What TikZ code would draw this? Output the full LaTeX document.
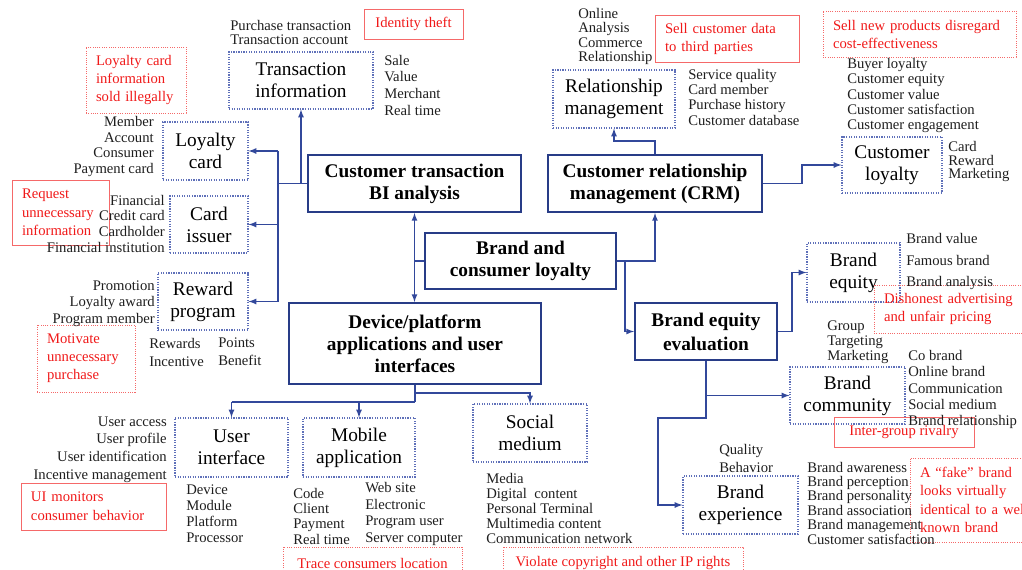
\documentclass[tikz,border=0pt]{standalone}
\usepackage{fontspec}
\setmainfont{Liberation Serif}
\usepackage{tikz}

\begin{document}
\begin{tikzpicture}[x=0.75pt,y=0.75pt,yscale=-1,xscale=1,>=latex,
  mainbox/.style={draw={rgb, 255:red, 40; green, 60; blue, 135}, line width=1.5pt, align=center, inner sep=0.75pt, font=\fontsize{14.5}{16.5}\selectfont\bfseries},
  subbox/.style={draw={rgb, 255:red, 95; green, 112; blue, 185}, densely dotted, line width=0.9pt, align=center, inner sep=0.75pt, font=\fontsize{14.5}{16.5}\selectfont},
  risk/.style={draw={rgb, 255:red, 245; green, 105; blue, 105}, line width=0.7pt, text={rgb, 255:red, 240; green, 25; blue, 25}, align=left, inner xsep=7.5pt, inner ysep=0pt, font=\fontsize{11}{13.5}\selectfont},
  term/.style={inner sep=0.75pt, align=left, text={rgb, 255:red, 30; green, 30; blue, 30}},
  link/.style={draw={rgb, 255:red, 50; green, 72; blue, 155}, line width=1pt}]
\useasboundingbox (0,0) rectangle (1022,569);
\clip (0,0) rectangle (1022,569);

%Shape: Rectangle (main boxes)
\draw (414.5,183.5) node (ctbi) [mainbox, minimum width=159.75pt, minimum height=42.75pt] {Customer transaction\\BI analysis};
\draw (655,183.5) node (crm) [mainbox, minimum width=160.5pt, minimum height=42.75pt] {Customer relationship\\management (CRM)};
\draw (520.5,261) node (bcl) [mainbox, minimum width=143.25pt, minimum height=42pt] {Brand and\\consumer loyalty};
\draw (415,343.5) node (dev) [mainbox, minimum width=189pt, minimum height=60.75pt] {Device/platform\\applications and user\\interfaces};
\draw (706,331.5) node (bee) [mainbox, minimum width=106.5pt, minimum height=42.75pt, font=\fontsize{14.5}{18}\selectfont\bfseries] {Brand equity\\evaluation};

%Shape: Rectangle (dotted boxes)
\draw (301,80.5) node (tri) [subbox, minimum width=108pt, minimum height=42.75pt] {Transaction\\information};
\draw (205.5,151) node (lyc) [subbox, minimum width=63.75pt, minimum height=43.5pt] {Loyalty\\card};
\draw (209,224.5) node (cis) [subbox, minimum width=58.5pt, minimum height=42.75pt] {Card\\issuer};
\draw (203,301.5) node (rwp) [subbox, minimum width=67.5pt, minimum height=42.75pt] {Reward\\program};
\draw (614,99) node (rlm) [subbox, minimum width=91.5pt, minimum height=43.5pt] {Relationship\\management};
\draw (892,165) node (cly) [subbox, minimum width=75pt, minimum height=42pt] {Customer\\loyalty};
\draw (853.5,272.5) node (beq) [subbox, minimum width=69.75pt, minimum height=44.25pt] {Brand\\equity};
\draw (847.5,395.5) node (bco) [subbox, minimum width=86.25pt, minimum height=42.75pt] {Brand\\community};
\draw (740.5,505) node (bex) [subbox, minimum width=86.25pt, minimum height=43.5pt] {Brand\\experience};
\draw (231.5,447.5) node (uif) [subbox, minimum width=84.75pt, minimum height=44.25pt] {User\\interface};
\draw (359,447.5) node (mob) [subbox, minimum width=84pt, minimum height=44.25pt] {Mobile\\application};
\draw (530,433) node (soc) [subbox, minimum width=85.5pt, minimum height=43.5pt] {Social\\medium};

%Shape: Rectangle (risks)
\draw (413.5,24) node (idt) [risk, align=center, minimum width=74.25pt, minimum height=22.5pt] {Identity theft};
\draw (136,80) node (lci) [risk, densely dotted, text width=60pt, minimum height=49.5pt] {Loyalty card\\information\\sold illegally};
\draw (60.5,212.5) node (rui) [risk, text width=57.75pt, minimum height=48.75pt, font=\fontsize{11}{13.9}\selectfont] {Request\\unnecessary\\information};
\draw (86,358.5) node (mup) [risk, densely dotted, text width=58.5pt, minimum height=50.25pt] {Motivate\\unnecessary\\purchase};
\draw (93.5,506.5) node (uim) [risk, text width=93.75pt, minimum height=35.25pt, font=\fontsize{11}{14.25}\selectfont] {UI monitors\\consumer behavior};
\draw (372.5,563) node (tcl) [risk, densely dotted, align=center, minimum width=134.25pt, minimum height=24pt] {Trace consumers location};
\draw (623,563) node (vcr) [risk, densely dotted, align=center, minimum width=180pt, minimum height=24pt] {Violate copyright and other IP rights};
\draw (727,38.5) node (scd) [risk, text width=93pt, minimum height=35.25pt] {Sell customer data\\to third parties};
\draw (919.5,34) node (snp) [risk, densely dotted, text width=129.75pt, minimum height=34.5pt] {Sell new products disregard\\cost-effectiveness};
\draw (952,309) node (dap) [risk, densely dotted, text width=102pt, minimum height=36pt] {Dishonest advertising\\and unfair pricing};
\draw (904,432) node (igr) [risk, align=center, minimum width=105pt, minimum height=22.5pt] {Inter-group rivalry};
\draw (975,500) node (fkb) [risk, densely dotted, text width=82.5pt, minimum height=63pt, font=\fontsize{11}{13.75}\selectfont] {A “fake” brand\\looks virtually\\identical to a well\\known brand};

% Text Node
\draw (229,32) node (t1) [term, anchor=west, font=\fontsize{11}{10.5}\selectfont] {Purchase transaction\\Transaction account};
% Text Node
\draw (383,85) node (t2) [term, anchor=west, font=\fontsize{11}{12.5}\selectfont] {Sale\\Value\\Merchant\\Real time};
% Text Node
\draw (155,146.5) node (t3) [term, anchor=east, align=right, font=\fontsize{11}{11.75}\selectfont] {Member\\Account\\Consumer\\Payment card};
% Text Node
\draw (166,223.5) node (t4) [term, anchor=east, align=right, font=\fontsize{11}{11.75}\selectfont] {Financial\\Credit card\\Cardholder\\Financial institution};
% Text Node
\draw (156,303.5) node (t5) [term, anchor=east, align=right, font=\fontsize{11}{12.4}\selectfont] {Promotion\\Loyalty award\\Program member};
% Text Node
\draw (148,352) node (t6) [term, anchor=west, font=\fontsize{11}{13.5}\selectfont] {Rewards\\Incentive};
% Text Node
\draw (217,352) node (t7) [term, anchor=west, font=\fontsize{11}{13.5}\selectfont] {Points\\Benefit};
% Text Node
\draw (577,36.5) node (t8) [term, anchor=west, font=\fontsize{11}{10.75}\selectfont] {Online\\Analysis\\Commerce\\Relationship};
% Text Node
\draw (687,97) node (t9) [term, anchor=west, font=\fontsize{11}{11.5}\selectfont] {Service quality\\Card member\\Purchase history\\Customer database};
% Text Node
\draw (846,95.5) node (t10) [term, anchor=west, font=\fontsize{11}{11.45}\selectfont] {Buyer loyalty\\Customer equity\\Customer value\\Customer satisfaction\\Customer engagement};
% Text Node
\draw (947,161.5) node (t11) [term, anchor=west, font=\fontsize{11}{10.1}\selectfont] {Card\\Reward\\Marketing};
% Text Node
\draw (905,261.5) node (t12) [term, anchor=west, font=\fontsize{11}{16.1}\selectfont] {Brand value\\Famous brand\\Brand analysis};
% Text Node
\draw (826,342) node (t13) [term, anchor=west, font=\fontsize{11}{11.25}\selectfont] {Group\\Targeting\\Marketing};
% Text Node
\draw (907,389.5) node (t14) [term, anchor=west, font=\fontsize{11}{12.2}\selectfont] {Co brand\\Online brand\\Communication\\Social medium\\Brand relationship};
% Text Node
\draw (718,458) node (t15) [term, anchor=west, font=\fontsize{11}{13.5}\selectfont] {Quality\\Behavior};
% Text Node
\draw (806,503) node (t16) [term, anchor=west, font=\fontsize{11}{10.8}\selectfont] {Brand awareness\\Brand perception\\Brand personality\\Brand association\\Brand management\\Customer satisfaction};
% Text Node
\draw (168,449.5) node (t17) [term, anchor=east, align=right, font=\fontsize{11}{13.25}\selectfont] {User access\\User profile\\User identification\\Incentive management};
% Text Node
\draw (185,514) node (t18) [term, anchor=west, font=\fontsize{11}{12}\selectfont] {Device\\Module\\Platform\\Processor};
% Text Node
\draw (292,516) node (t19) [term, anchor=west, font=\fontsize{11}{11.5}\selectfont] {Code\\Client\\Payment\\Real time};
% Text Node
\draw (364,514) node (t20) [term, anchor=west, font=\fontsize{11}{12.5}\selectfont] {Web site\\Electronic\\Program user\\Server computer};
% Text Node
\draw (485,508) node (t21) [term, anchor=west, font=\fontsize{11}{11.25}\selectfont] {Media\\Digital\ \ content\\Personal Terminal\\Multimedia content\\Communication network};

% junction points
\coordinate (jl) at (278,183.5);
\coordinate (jr) at (625,261);
\coordinate (jc) at (655,141);
\coordinate (jk) at (802,183.5);
\coordinate (je) at (792,331.5);
\coordinate (jx) at (658,418);
\coordinate (jd) at (415,402);
\coordinate (js) at (415,393);

%Straight Lines
\draw [link] (ctbi.west) -- (jl);
\draw [link] (jl |- lyc.east) -- (jl |- rwp.east);
\foreach \n in {lyc,cis,rwp} \draw [link,->] (jl |- \n.east) -- (\n.east);
\draw [link,->] (tri.south |- ctbi.west) -- (tri.south);
%Straight Lines
\draw [link,<->] (ctbi.south) -- (ctbi.south |- dev.north);
\draw [link] (bcl.west) -- (ctbi.south |- bcl.west);
\draw [link,->] (bcl.east) -- (crm.south |- bcl.east) -- (crm.south);
\draw [link,->] (jr) -- (jr |- bee.west) -- (bee.west);
%Straight Lines
\draw [link,->] (crm.north) -- (jc) -- (jc -| rlm.south) -- (rlm.south);
\draw [link,->] (crm.east) -- (jk) -- (jk |- cly.west) -- (cly.west);
%Straight Lines
\draw [link,->] (bee.east) -- (je) -- (je |- beq.west) -- (beq.west);
\draw [link,->] (bee.south) -- (bee.south |- bco.west) -- (bco.west);
\draw [link,->] (bee.south |- bco.west) -- (bee.south |- jx) -- (jx) -- (jx |- bex.west) -- (bex.west);
%Straight Lines
\draw [link] (dev.south) -- (jd);
\draw [link] (uif.north |- jd) -- (jd);
\foreach \n in {uif,mob} \draw [link,->] (\n.north |- jd) -- (\n.north);
\draw [link,->] (js) -- (js -| soc.north) -- (soc.north);

\end{tikzpicture}
\end{document}
